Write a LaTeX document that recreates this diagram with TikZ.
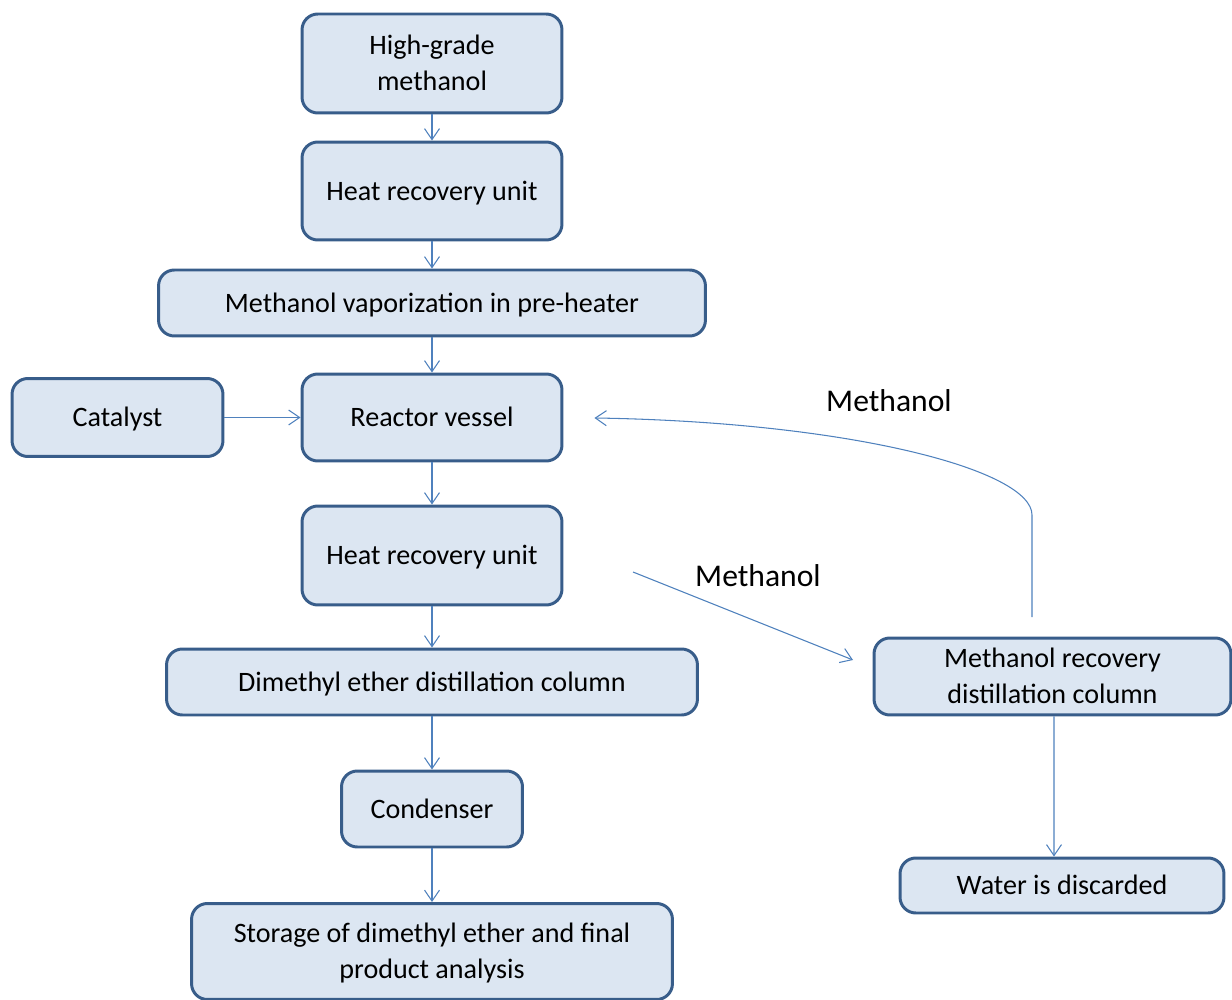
\documentclass[tikz,border=0pt]{standalone}
\usepackage{fontspec}
\setmainfont{Carlito}
\usepackage{tikz}
\usetikzlibrary{arrows.meta,positioning}
\definecolor{boxfill}{HTML}{DCE6F2}
\definecolor{boxline}{HTML}{385D8A}
\definecolor{flowline}{HTML}{4F81BD}

\begin{document}
\begin{tikzpicture} [
    x = 0.02cm, y = -0.02cm,
    stage/.style = { draw = boxline, fill = boxfill, line width = 1.7pt, rounded corners = 9pt,
                     align = center, inner sep = 0, text depth = 0.1ex, font = \fontsize{16}{20.5}\selectfont },
    flow/.style = { draw = flowline, line width = 0.6pt, -{Straight Barb[length=0.22cm, width=0.3cm]} },
    tag/.style = { font = \fontsize{18}{22}\selectfont }
    ]
  \useasboundingbox (0,0) rectangle (1232,1000);

  \node [stage, minimum width = 5.2cm, minimum height = 1.98cm] (hgm) at (432,63.5) {High-grade\\methanol};
  \node [stage, minimum width = 5.2cm, minimum height = 1.96cm] (hru1) at (432,191) {Heat recovery unit};
  \node [stage, minimum width = 10.94cm, minimum height = 1.32cm] (vap) at (432,303) {Methanol vaporization in pre-heater};
  \node [stage, minimum width = 4.22cm, minimum height = 1.56cm] (cat) at (117.5,417.5) {Catalyst};
  \node [stage, minimum width = 5.2cm, minimum height = 1.74cm] (reactor) at (432,417.5) {Reactor vessel};
  \node [stage, minimum width = 5.2cm, minimum height = 1.98cm] (hru2) at (432,555.5) {Heat recovery unit};
  \node [stage, minimum width = 10.62cm, minimum height = 1.32cm] (dmecol) at (432,682) {Dimethyl ether distillation column};
  \node [stage, minimum width = 3.62cm, minimum height = 1.52cm] (cond) at (432,809) {Condenser};
  \node [stage, minimum width = 9.62cm, minimum height = 1.92cm] (store) at (432,951.5) {Storage of dimethyl ether and final\\product analysis};
  \node [stage, minimum width = 7.14cm, minimum height = 1.54cm] (recov) at (1052.5,676.5) {Methanol recovery\\distillation column};
  \node [stage, minimum width = 6.48cm, minimum height = 1.1cm] (water) at (1062,885.5) {Water is discarded};

  \node [tag] (tagback) at (889,401) {Methanol};
  \node [tag] (tagfeed) at (758,576) {Methanol};

  \coordinate (backstart) at (1032,617);
  \coordinate (backbend) at (1032,515);
  \coordinate (feedstart) at (633,572);
  \coordinate (feedend) at (853,660);

  \draw [flow] (hgm) -- (hru1);
  \draw [flow] (hru1) -- (vap);
  \draw [flow] (vap) -- (reactor);
  \draw [flow] (cat) -- (reactor);
  \draw [flow] (reactor) -- (hru2);
  \draw [flow] (hru2) -- (dmecol);
  \draw [flow] (dmecol) -- (cond);
  \draw [flow] (cond) -- (store);
  \draw [flow] (recov.south -| water.north) ++(-8,0) -- ([xshift=-0.16cm]water.north);
  \draw [flow] (feedstart) -- (feedend);
  \draw [flow, shorten > = 0.62cm] (backstart) -- (backbend)
    .. controls (1032,470) and (850,422) .. (reactor.east);
\end{tikzpicture}
\end{document}
